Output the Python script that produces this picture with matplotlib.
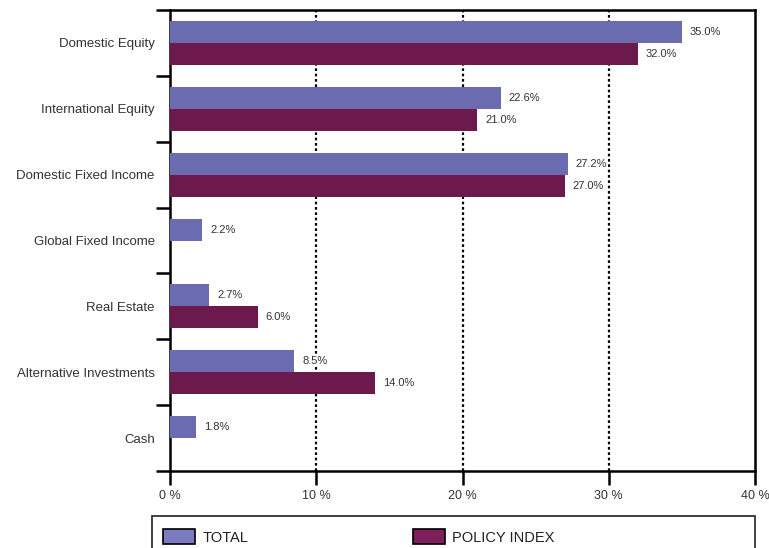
import matplotlib
matplotlib.use("Agg")
import matplotlib.pyplot as plt
from matplotlib.patches import Patch, Rectangle
import numpy as np

plt.rcParams['font.family'] = ['Liberation Sans', 'DejaVu Sans']

categories = ["Domestic Equity", "International Equity", "Domestic Fixed Income",
              "Global Fixed Income", "Real Estate", "Alternative Investments", "Cash"]
total = [35.0, 22.6, 27.2, 2.2, 2.7, 8.5, 1.8]
policy = [32.0, 21.0, 27.0, None, 6.0, 14.0, None]
series_names = ["TOTAL", "POLICY INDEX"]
xticks = [0, 10, 20, 30, 40]
xtick_labels = ["0 %", "10 %", "20 %", "30 %", "40 %"]

c_total = "#6B6BB0"
c_policy = "#6C1A4E"
c_total_leg = "#7B7BC2"
c_policy_leg = "#7E1F5C"

W, H = 769, 548
fig = plt.figure(figsize=(W/100, H/100), dpi=100)
ax = fig.add_axes([170/W, 1-471/H, (755-170)/W, (471-10)/H])

n = len(categories)
y = np.arange(n)
bh = 1/3
lbl_box = dict(facecolor='white', edgecolor='none', pad=0.5)
for i in range(n):
    if total[i] is not None:
        ax.barh(y[i]-bh/2, total[i], height=bh, color=c_total, zorder=3)
        ax.text(total[i]+0.55, y[i]-bh/2, f"{total[i]:.1f}%", va='center', ha='left',
                fontsize=8, color='#333333', zorder=4, bbox=lbl_box)
    if policy[i] is not None:
        ax.barh(y[i]+bh/2, policy[i], height=bh, color=c_policy, zorder=3)
        ax.text(policy[i]+0.55, y[i]+bh/2, f"{policy[i]:.1f}%", va='center', ha='left',
                fontsize=8, color='#333333', zorder=4, bbox=lbl_box)

ax.set_xlim(0, 40)
ax.set_ylim(n-0.5, -0.5)
ax.set_xticks(xticks)
ax.set_xticklabels(xtick_labels, fontsize=9, color='#333333')
for xv in xticks[1:-1]:
    ax.axvline(xv, color='black', linestyle=(0, (1.2, 1.2)), lw=1.6, zorder=1)

ax.set_yticks(np.arange(-0.5, n, 1.0))
ax.set_yticklabels([])
ax.set_yticks(y, minor=True)
ax.set_yticklabels(categories, minor=True, fontsize=9.5, color='#333333')
ax.tick_params(axis='y', which='minor', length=0, pad=11)
ax.tick_params(axis='y', which='major', length=10, width=1.8, direction='out')
ax.tick_params(axis='x', length=10, width=1.8, direction='out', pad=4)

for s in ax.spines.values():
    s.set_linewidth(1.8)
    s.set_color('black')

# legend frame
fig.patches.append(Rectangle((152/W, -0.05), (755-152)/W, (1-516/H)+0.05,
                             transform=fig.transFigure, fill=False,
                             edgecolor='#333333', lw=1.3))
handles = [Patch(facecolor=c_total_leg, edgecolor='black', lw=1.2),
           Patch(facecolor=c_policy_leg, edgecolor='black', lw=1.2)]
leg = fig.legend(handles, series_names, loc='center left',
                 bbox_to_anchor=(163/W, 1-537/H), ncol=2, frameon=False,
                 fontsize=10.5, handlelength=2.2, handleheight=1.2, handletextpad=0.5,
                 columnspacing=11.3, borderpad=0, borderaxespad=0)
for t in leg.get_texts():
    t.set_color('#222222')

fig.savefig("out.png", dpi=100)
